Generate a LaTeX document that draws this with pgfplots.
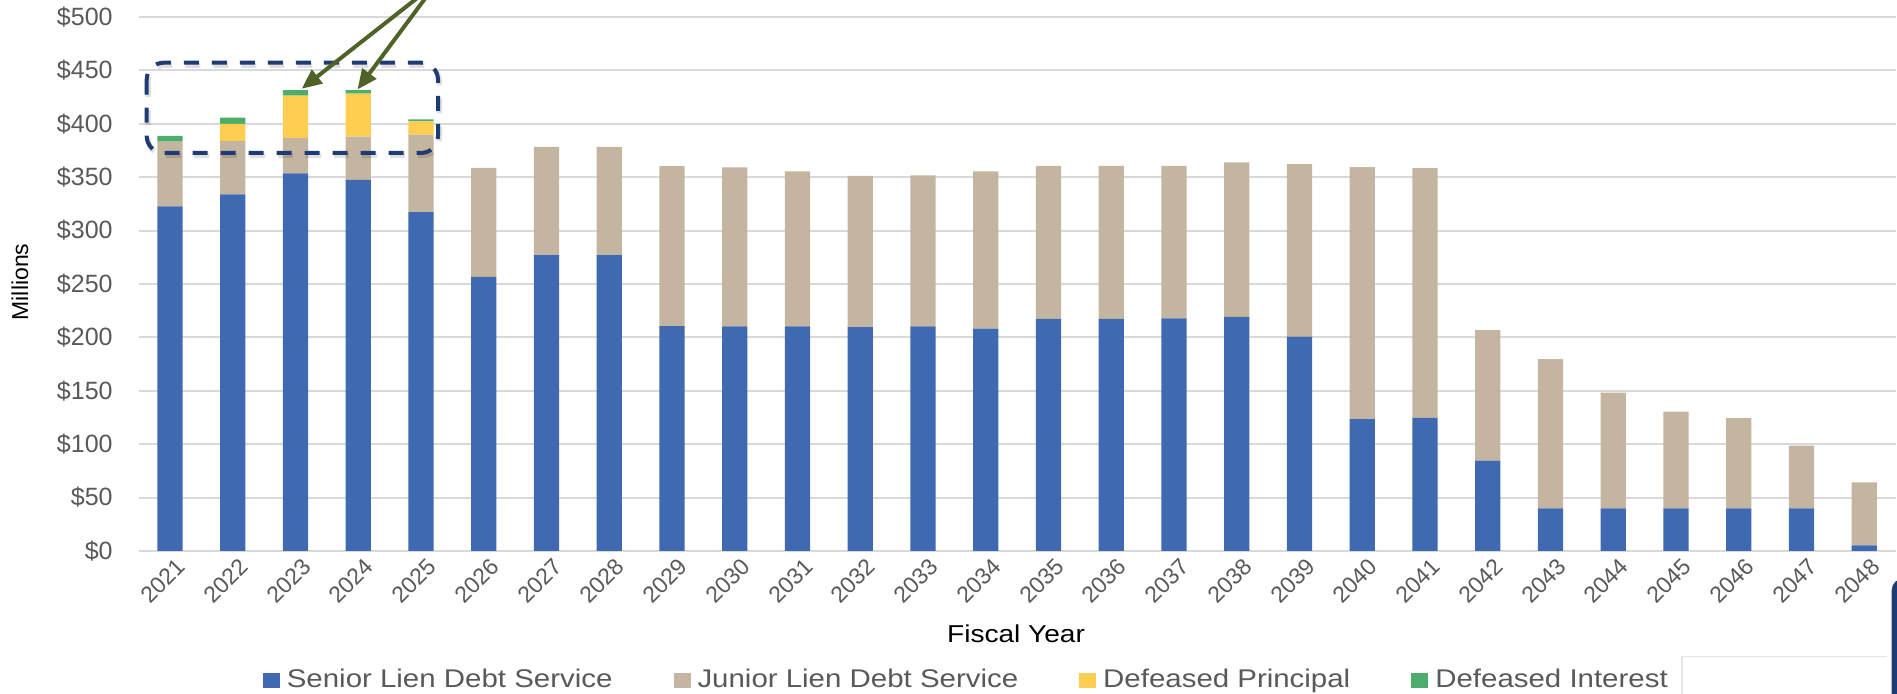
\documentclass[border=0pt]{standalone}
\usepackage{fontspec}
\setmainfont{Liberation Sans}
\newfontfamily\widesans[FakeStretch=1.15]{Liberation Sans}
\usepackage{pgfplots}
\usepackage{pgfplotstable}
\pgfplotsset{compat=1.18}
\usetikzlibrary{arrows.meta}

\definecolor{senior}{HTML}{3F69B0}
\definecolor{junior}{HTML}{C4B5A0}
\definecolor{defprin}{HTML}{FFCD50}
\definecolor{defint}{HTML}{4DAE6C}
\definecolor{gridgray}{HTML}{D9D9D9}
\definecolor{labelgray}{HTML}{595959}
\definecolor{navy}{HTML}{1F3B74}
\definecolor{olive}{HTML}{4F6228}

% Debt service by fiscal year, $ millions
\pgfplotstableread{
idx year senior junior defprin defint
0  2021 322.6  60.6  0.0  5.4
1  2022 333.8  50.3 15.9  5.7
2  2023 353.5  33.1 39.7  5.3
3  2024 347.6  40.3 40.3  3.4
4  2025 317.3  72.5 12.5  1.8
5  2026 256.7 102.1  0    0
6  2027 277.0 101.5  0    0
7  2028 277.0 101.5  0    0
8  2029 210.5 149.9  0    0
9  2030 210.2 148.9  0    0
10 2031 210.2 145.2  0    0
11 2032 209.6 141.7  0    0
12 2033 210.2 141.4  0    0
13 2034 208.3 147.1  0    0
14 2035 217.4 143.3  0    0
15 2036 217.4 143.3  0    0
16 2037 217.7 143.0  0    0
17 2038 219.2 144.6  0    0
18 2039 200.8 161.5  0    0
19 2040 123.4 236.1  0    0
20 2041 124.6 233.9  0    0
21 2042  84.6 122.1  0    0
22 2043  40.0 139.6  0    0
23 2044  40.0 108.3  0    0
24 2045  40.0  90.5  0    0
25 2046  40.0  84.3  0    0
26 2047  40.0  58.7  0    0
27 2048   5.3  59.0  0    0
}\debtdata

\begin{document}
\begin{tikzpicture}
\useasboundingbox (0,0) rectangle (948.5pt,347pt);
\clip (0,0) rectangle (948.5pt,347pt);

\begin{axis}[
  at={(69.3pt,71.5pt)}, anchor=south west,
  scale only axis, width=878.5pt, height=267pt,
  ybar stacked, bar width=0.4,
  xmin=-0.5, xmax=27.5, ymin=0, ymax=500,
  xtick=data, xticklabels from table={\debtdata}{year},
  ytick={0,50,...,500},
  yticklabels={\$0,\$50,\$100,\$150,\$200,\$250,\$300,\$350,\$400,\$450,\$500},
  ymajorgrids, grid style={draw=gridgray, line width=1pt},
  axis line style={draw=none}, major tick length=0pt,
  yticklabel style={font=\fontsize{12.5}{14}\selectfont, text=labelgray,
    anchor=east, inner sep=0pt, xshift=-12.8pt},
  xticklabel style={font=\fontsize{11.5}{13}\selectfont, text=labelgray,
    xshift=5.75pt, yshift=-5.75pt, rotate=45, anchor=east, inner sep=0pt},
  legend columns=4,
  legend style={at={(0.0705,-0.2416)}, anchor=west, draw=none, fill=none,
    inner sep=0pt, font=\widesans\fontsize{12.8}{14}\selectfont,
    nodes={inner sep=0pt, text=labelgray},
    /tikz/every odd column/.append style={column sep=3.5pt},
    /tikz/every even column/.append style={column sep=30.5pt}},
  legend image code/.code={\fill[#1, draw=none] (0pt,-3.75pt) rectangle (8.5pt,3.75pt);},
]
\addplot[fill=senior, draw=none] table[x=idx, y=senior] {\debtdata};
\addplot[fill=junior, draw=none] table[x=idx, y=junior] {\debtdata};
\addplot[fill=defprin, draw=none] table[x=idx, y=defprin] {\debtdata};
\addplot[fill=defint, draw=none] table[x=idx, y=defint] {\debtdata};
\legend{Senior Lien Debt Service, Junior Lien Debt Service, Defeased Principal, Defeased Interest}
\end{axis}

% callouts and titles, in a top-left origin frame
\begin{scope}[x=0.5pt, y=-0.5pt, shift={(0pt,347pt)}]
  \draw[black, opacity=0.12, line width=2.6pt, dash pattern=on 7.5pt off 6.5pt,
        rounded corners=8.5pt] (148.2,65.2) rectangle (439.5,155.5);
  \draw[navy, line width=2pt, dash pattern=on 7.5pt off 6.5pt,
        rounded corners=8.5pt] (146.7,62.7) rectangle (438,153);
  \draw[olive, line width=2pt, -{Triangle[length=10pt, width=8.5pt]}]
        (437,-17.5) -- (301.7,88.8);
  \draw[olive, line width=2pt, -{Triangle[length=10pt, width=8.5pt]}]
        (437,-17.5) -- (357.5,89.5);
  \draw[black!10, line width=0.8pt] (1681.7,700) -- (1681.7,656.7) -- (1887,656.7);
  \fill[navy, rounded corners=6pt] (1891.7,720) -- (1891.7,578.3) -- (1910,578.3) -- (1910,720) -- cycle;
  \node[rotate=90, font=\fontsize{11.5}{13}\selectfont] at (20,282) {Millions};
  \node[anchor=base, font=\widesans\fontsize{12.2}{14}\selectfont] at (1016,643) {Fiscal Year};
\end{scope}
\end{tikzpicture}
\end{document}
